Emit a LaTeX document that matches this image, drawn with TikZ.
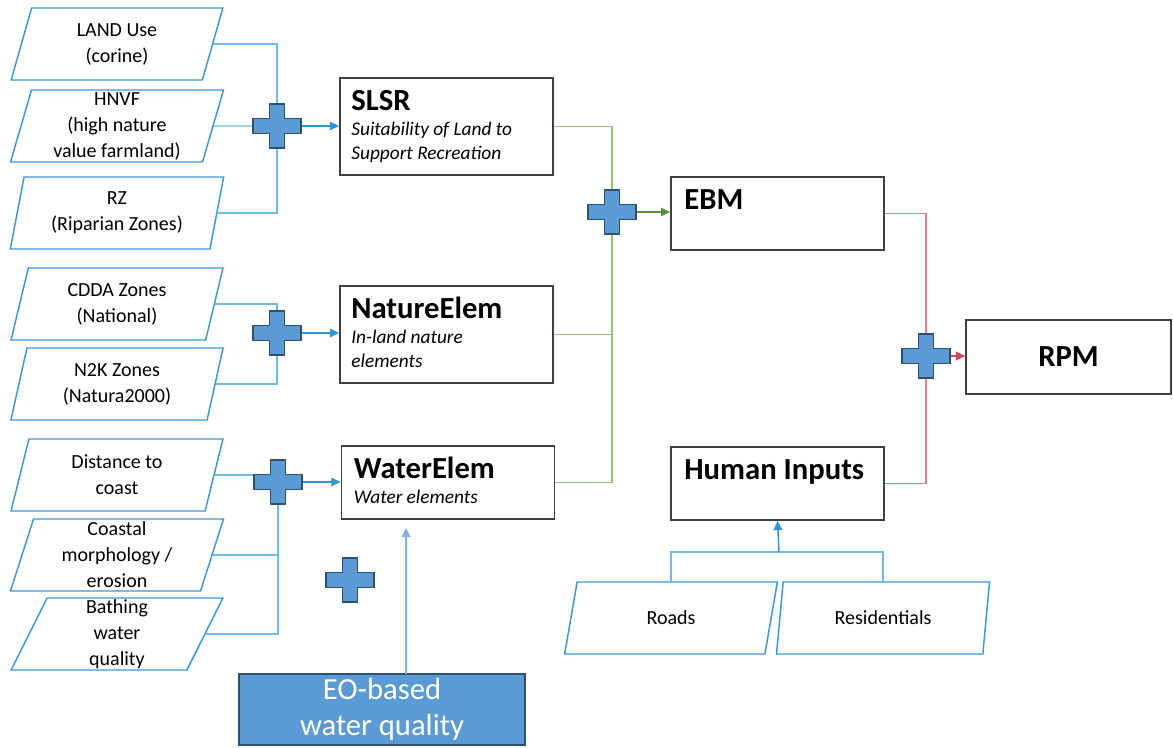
\documentclass[tikz,border=0pt]{standalone}
\usepackage{fontspec}
\setmainfont{Carlito}
\usepackage{tikz}
\usetikzlibrary{
  arrows.meta,
  shapes.geometric,
  positioning,
  calc
}
\definecolor{rpInput}{HTML}{3A9AD9}
\definecolor{rpLink}{HTML}{6CBBE9}
\definecolor{rpArrow}{HTML}{2F97D6}
\definecolor{rpCross}{HTML}{5B9BD5}
\definecolor{rpCrossEdge}{HTML}{2F4F6F}
\definecolor{rpGreen}{HTML}{93C47D}
\definecolor{rpGreenDark}{HTML}{5A8F3C}
\definecolor{rpRed}{HTML}{E3808A}
\definecolor{rpRedDark}{HTML}{CC4B5A}
\definecolor{rpBox}{HTML}{404040}
\definecolor{rpEOLink}{HTML}{7FB2E0}
\newcommand{\rpin}{\fontsize{15}{19.5}\selectfont}
\newcommand{\rptitle}{\fontsize{23}{27}\selectfont\bfseries}
\newcommand{\rpdesc}{\fontsize{14.5}{18}\selectfont\itshape}
\newcommand{\rpeo}{\fontsize{23}{27}\selectfont}
\tikzset{
  inputbox/.style={
    trapezium, trapezium left angle=77, trapezium right angle=103,
    trapezium stretches=true, draw=rpInput, line width=1.1pt,
    minimum width=160pt, minimum height=54pt, inner sep=0pt,
    align=center, font=\rpin
  },
  procbox/.style={draw=rpBox, line width=1.1pt, fill=white, inner sep=0pt},
  procbig/.style={procbox, minimum width=160pt, minimum height=72.75pt},
  procsmall/.style={procbox, minimum width=160pt, minimum height=54.75pt},
  titletext/.style={anchor=base west, inner sep=0pt, font=\rptitle},
  desctext/.style={anchor=north west, inner sep=0pt, align=left, font=\rpdesc},
  eobox/.style={
    draw=rpCrossEdge, fill=rpCross, line width=1.1pt, text=white,
    minimum width=214.5pt, minimum height=53.25pt, inner sep=0pt,
    align=center, font=\rpeo
  },
  crossfill/.style={fill=rpCross, draw=rpCrossEdge, line width=1.1pt, line join=round},
  plussign/.pic={
    \path[crossfill] (-7.5,-22) -- (7.5,-22) -- (7.5,-7.5) -- (24,-7.5)
      -- (24,7.5) -- (7.5,7.5) -- (7.5,22) -- (-7.5,22) -- (-7.5,7.5)
      -- (-24,7.5) -- (-24,-7.5) -- (-7.5,-7.5) -- cycle;
  },
  link/.style={draw=rpLink, line width=1.1pt},
  linkarrow/.style={draw=rpArrow, line width=1.1pt, -{Triangle[length=7pt, width=6.5pt]}},
  greenlink/.style={draw=rpGreen, line width=1.1pt},
  greenarrow/.style={draw=rpGreenDark, line width=1.1pt, -{Triangle[length=7pt, width=6.5pt]}},
  redlink/.style={draw=rpRed, line width=1.1pt},
  redarrow/.style={draw=rpRedDark, line width=1.1pt, -{Triangle[length=7pt, width=6.5pt]}},
  eolink/.style={draw=rpEOLink, line width=1.1pt, -{Triangle[length=7pt, width=6.5pt]}, shorten >=6pt}
}
\begin{document}
\begin{tikzpicture}[x=0.75pt, y=-0.75pt]
  \useasboundingbox (0,0) rectangle (1173,747);

  % input layers
  \node[inputbox] (land) at (117,44) {LAND Use\\(corine)};
  \node[inputbox] (hnvf) at (117,126) {HNVF\\(high nature\\value farmland)};
  \node[inputbox] (rz) at (117,213) {RZ\\(Riparian Zones)};
  \node[inputbox] (cdda) at (117,304) {CDDA Zones\\(National)};
  \node[inputbox] (n2k) at (117,384) {N2K Zones\\(Natura2000)};
  \node[inputbox] (dist) at (117,475) {Distance to\\coast};
  \node[inputbox] (morph) at (117,555) {Coastal\\morphology /\\erosion};
  \node[inputbox] (bath) at (117,634) {Bathing\\water\\quality};
  \node[inputbox] (roads) at (671,618) {Roads};
  \node[inputbox] (resid) at (883,618) {Residentials};

  % indicator boxes
  \node[procbig] (slsr) at (446.5,126.5) {};
  \node[procbig] (nature) at (446.5,334.5) {};
  \node[procsmall] (water) at (448,482.5) {};
  \node[procsmall] (ebm) at (777.5,213.5) {};
  \node[procsmall] (human) at (777.5,483.5) {};
  \node[procbox, minimum width=153.75pt, minimum height=55.5pt, font=\rptitle] (rpm) at (1068.5,357) {RPM};
  \node[eobox] (eo) at (382,709.5) {EO-based\\water quality};

  \node[titletext] (slsrtitle) at ($(slsr.north west)+(12,33)$) {SLSR};
  \node[desctext] (slsrdesc) at ($(slsr.north west)+(12,45)$) {Suitability of Land to\\Support Recreation};
  \node[titletext] (naturetitle) at ($(nature.north west)+(12,33)$) {NatureElem};
  \node[desctext] (naturedesc) at ($(nature.north west)+(12,45)$) {In-land nature\\elements};
  \node[titletext] (watertitle) at ($(water.north west)+(13,33)$) {WaterElem};
  \node[desctext] (waterdesc) at ($(water.north west)+(13,45)$) {Water elements};
  \node[titletext] (ebmtitle) at ($(ebm.north west)+(14,33)$) {EBM};
  \node[titletext] (humantitle) at ($(human.north west)+(14,33)$) {Human Inputs};

  \coordinate (p1) at (277,126);
  \coordinate (p2) at (277,333);
  \coordinate (p3) at (278,482);
  \coordinate (p4) at (350,580);
  \coordinate (p5) at (612,212);
  \coordinate (p6) at (926,356);
  \coordinate (hjoin) at (779,552);
  \coordinate (eoin) at (406,674);

  \draw[link] (land.east) -| (p1);
  \draw[link] (hnvf.east) -- (p1);
  \draw[link] (rz.east) -| (p1);
  \draw[linkarrow] (p1) -- (p1 -| slsr.west);
  \draw[link] (cdda.east) -| (p2);
  \draw[link] (n2k.east) -| (p2);
  \draw[linkarrow] (p2) -- (p2 -| nature.west);
  \draw[link] (dist.east) -| (p3);
  \draw[link] (morph.east) -| (p3);
  \draw[link] (bath.east) -| (p3);
  \draw[linkarrow] (p3) -- (p3 -| water.west);
  \draw[eolink] (eoin) -- (eoin |- water.south);

  \draw[greenlink] (slsr.east) -| (p5);
  \draw[greenlink] (nature.east) -| (p5);
  \draw[greenlink] (water.east) -| (p5);
  \draw[greenarrow] (p5) -- (p5 -| ebm.west);

  \draw[redlink] (ebm.east) -| (p6);
  \draw[redlink] (human.east) -| (p6);
  \draw[redarrow] (p6) -- (p6 -| rpm.west);

  \draw[link] (roads.north) |- (hjoin) -| (resid.north);
  \draw[linkarrow] (hjoin) -- (human.south);

  \foreach \p in {p1,p2,p3,p4,p5,p6}
    \pic at (\p) {plussign};
\end{tikzpicture}
\end{document}
